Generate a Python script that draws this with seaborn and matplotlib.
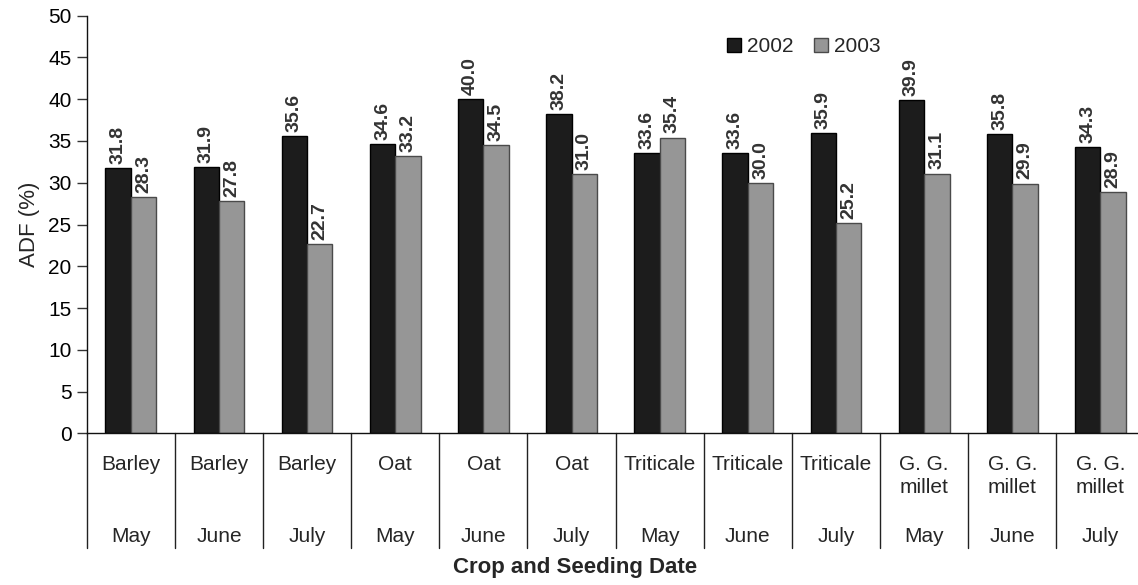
import matplotlib
matplotlib.use("Agg")
import matplotlib.pyplot as plt
import matplotlib.transforms as mtransforms
import seaborn as sns
import pandas as pd

crops = ["Barley", "Barley", "Barley", "Oat", "Oat", "Oat",
         "Triticale", "Triticale", "Triticale",
         "G. G.\nmillet", "G. G.\nmillet", "G. G.\nmillet"]
months = ["May", "June", "July"] * 4
adf_2002 = [31.8, 31.9, 35.6, 34.6, 40.0, 38.2, 33.6, 33.6, 35.9, 39.9, 35.8, 34.3]
adf_2003 = [28.3, 27.8, 22.7, 33.2, 34.5, 31.0, 35.4, 30.0, 25.2, 31.1, 29.9, 28.9]
years = ["2002", "2003"]
yticks = list(range(0, 51, 5))

keys = [f"{i}" for i in range(len(crops))]
df = pd.DataFrame({
    "key": keys * 2,
    "ADF": adf_2002 + adf_2003,
    "Year": [years[0]] * len(keys) + [years[1]] * len(keys),
})

sns.set_style("white")
plt.rcParams["font.family"] = ["Liberation Sans", "DejaVu Sans"]

W, H = 1138, 585
fig = plt.figure(figsize=(W / 100, H / 100), dpi=100)
left_px, right_px, top_px, bot_px = 86.7, 1144.5, 15.7, 433.3
ax = fig.add_axes([left_px / W, 1 - bot_px / H,
                   (right_px - left_px) / W, (bot_px - top_px) / H])

colors = ["#1c1c1c", "#969696"]
sns.barplot(data=df, x="key", y="ADF", hue="Year", palette=colors,
            width=0.576, order=keys, hue_order=years, ax=ax,
            saturation=1, edgecolor="black", linewidth=1.0)

edge_cols = ["#000000", "#4a4a4a"]
for cont, ec in zip(ax.containers, edge_cols):
    for p in cont.patches:
        p.set_edgecolor(ec)
    ax.bar_label(cont, fmt="%.1f", rotation=90, padding=3,
                 fontweight="bold", color="#333333", fontsize=14)

ax.set_xlim(-0.5, len(keys) - 0.5)
ax.set_ylim(0, 50)
ax.set_yticks(yticks)
ax.tick_params(axis="y", labelsize=15, length=7, width=1,
               color="#333333", pad=4, left=True, labelcolor="black")
ax.set_xticks([])
ax.set_xlabel("")
ax.set_ylabel("ADF (%)", fontsize=16, labelpad=6)

for s in ["top", "right"]:
    ax.spines[s].set_visible(False)
for s in ["left", "bottom"]:
    ax.spines[s].set_color("#111111")
    ax.spines[s].set_linewidth(1.0)

axh = bot_px - top_px
def yfrac(ypx):
    return (bot_px - ypx) / axh

trans = mtransforms.blended_transform_factory(ax.transData, ax.transAxes)
for i, (c, m) in enumerate(zip(crops, months)):
    ax.text(i, yfrac(455), c, transform=trans, ha="center", va="top",
            fontsize=15, linespacing=1.25)
    ax.text(i, yfrac(536.7), m, transform=trans, ha="center", va="center",
            fontsize=15)
for i in range(len(keys) + 1):
    ax.plot([i - 0.5, i - 0.5], [0, yfrac(548)], transform=trans,
            color="#222222", lw=1.0, clip_on=False)

fig.text(575 / W, 1 - 568 / H, "Crop and Seeding Date", ha="center",
         va="center", fontsize=16, fontweight="bold")

handles, labels = ax.get_legend_handles_labels()
for h, ec in zip(handles, ["#000000", "#4a4a4a"]):
    h.set_edgecolor(ec)
ax.legend(handles, labels, loc="center left",
          bbox_to_anchor=((727 - left_px) / (right_px - left_px), yfrac(46.7)),
          ncol=2, frameon=False, fontsize=15, handlelength=0.65,
          handleheight=0.65, handletextpad=0.3, columnspacing=1.0,
          borderpad=0, borderaxespad=0)

fig.savefig("out.png", dpi=100)
